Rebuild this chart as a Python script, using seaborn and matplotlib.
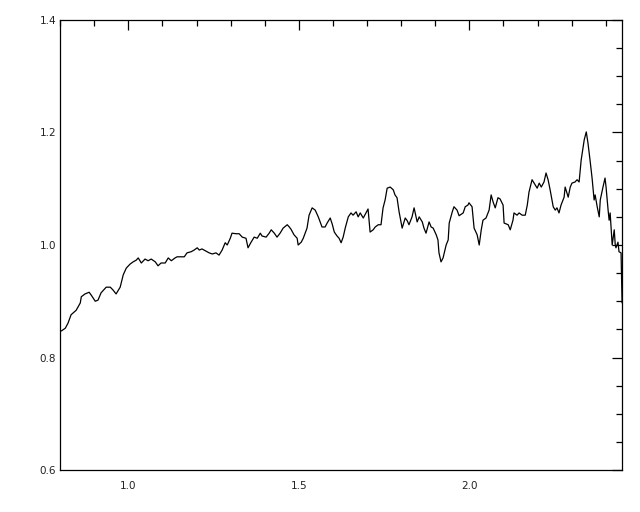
import numpy as np
import pandas as pd
import matplotlib
matplotlib.use("Agg")
import matplotlib.pyplot as plt
import seaborn as sns
from matplotlib.ticker import MultipleLocator

# spectrum (wavelength, relative flux)
wave = [
    0.803, 0.815, 0.823, 0.832, 0.847, 0.859, 0.862, 0.873, 0.885, 0.891,
    0.903, 0.911, 0.920, 0.935, 0.947, 0.955, 0.964, 0.976, 0.985, 0.994,
    1.005, 1.014, 1.023, 1.029, 1.038, 1.049, 1.058, 1.067, 1.079, 1.087,
    1.096, 1.108, 1.117, 1.126, 1.137,
    1.143, 1.155, 1.164, 1.172, 1.184, 1.193, 1.202, 1.208, 1.216, 1.228,
    1.237, 1.246, 1.257, 1.266, 1.275, 1.284, 1.290, 1.299, 1.304, 1.316,
    1.325, 1.334, 1.345, 1.351, 1.360, 1.369, 1.378, 1.387, 1.392, 1.404,
    1.413, 1.419, 1.428, 1.436, 1.445, 1.454, 1.466, 1.472, 1.477,
    1.486, 1.495, 1.498, 1.507, 1.513, 1.524, 1.530, 1.539, 1.548, 1.557,
    1.568, 1.577, 1.583, 1.592, 1.598, 1.604, 1.612, 1.618, 1.624, 1.630,
    1.636, 1.645, 1.653, 1.659, 1.668, 1.674, 1.680, 1.689, 1.697, 1.703,
    1.709, 1.718, 1.724, 1.733, 1.741, 1.747, 1.753, 1.759, 1.768, 1.777,
    1.782, 1.788, 1.794, 1.803, 1.812, 1.818,
    1.823, 1.832, 1.838, 1.847, 1.853, 1.862, 1.867, 1.873, 1.882, 1.888,
    1.894, 1.903, 1.908, 1.911, 1.917, 1.923, 1.932, 1.938, 1.941, 1.950,
    1.955, 1.964, 1.970, 1.982, 1.988, 1.996, 1.999, 2.008, 2.014, 2.023,
    2.029, 2.035, 2.040, 2.049, 2.058, 2.064, 2.070, 2.076, 2.084, 2.090,
    2.099, 2.102, 2.114, 2.120, 2.128, 2.131, 2.140, 2.146, 2.155,
    2.164, 2.170, 2.175, 2.184, 2.193, 2.199, 2.205, 2.211, 2.219, 2.225,
    2.231, 2.237, 2.246, 2.252, 2.257, 2.263, 2.269, 2.278, 2.281, 2.290,
    2.296, 2.301, 2.310, 2.316, 2.322, 2.328, 2.337, 2.343, 2.348, 2.354,
    2.360, 2.366, 2.369, 2.375, 2.381, 2.384, 2.392, 2.398, 2.401, 2.407,
    2.410, 2.413, 2.419, 2.425, 2.428, 2.430, 2.436, 2.439, 2.445, 2.446,
    2.448,
]
flux = [
    0.847, 0.852, 0.861, 0.876, 0.884, 0.897, 0.908, 0.913, 0.916, 0.911,
    0.900, 0.902, 0.915, 0.925, 0.925, 0.920, 0.913, 0.925, 0.947, 0.959,
    0.966, 0.970, 0.973, 0.977, 0.968, 0.975, 0.972, 0.975, 0.970, 0.963,
    0.968, 0.968, 0.977, 0.972, 0.977,
    0.979, 0.979, 0.979, 0.986, 0.988, 0.991, 0.995, 0.991, 0.993, 0.989,
    0.986, 0.984, 0.986, 0.982, 0.991, 1.004, 1.000, 1.012, 1.021, 1.020,
    1.020, 1.014, 1.012, 0.995, 1.005, 1.014, 1.012, 1.021, 1.016, 1.014,
    1.021, 1.027, 1.021, 1.014, 1.021, 1.030, 1.036, 1.032, 1.028,
    1.018, 1.012, 1.000, 1.005, 1.012, 1.030, 1.053, 1.066, 1.062, 1.050,
    1.032, 1.032, 1.039, 1.048, 1.037, 1.023, 1.016, 1.012, 1.004, 1.014,
    1.030, 1.050, 1.057, 1.053, 1.059, 1.050, 1.057, 1.048, 1.057, 1.064,
    1.023, 1.027, 1.032, 1.036, 1.036, 1.066, 1.080, 1.101, 1.103, 1.098,
    1.089, 1.084, 1.059, 1.030, 1.048, 1.043,
    1.036, 1.050, 1.066, 1.041, 1.050, 1.041, 1.030, 1.021, 1.041, 1.032,
    1.030, 1.018, 1.009, 0.986, 0.970, 0.977, 1.000, 1.009, 1.039, 1.059,
    1.068, 1.062, 1.052, 1.057, 1.068, 1.071, 1.075, 1.068, 1.030, 1.018,
    1.000, 1.027, 1.044, 1.048, 1.062, 1.089, 1.076, 1.066, 1.084, 1.082,
    1.071, 1.039, 1.036, 1.027, 1.044, 1.057, 1.053, 1.057, 1.053,
    1.053, 1.071, 1.094, 1.116, 1.107, 1.101, 1.110, 1.103, 1.112, 1.128,
    1.116, 1.098, 1.068, 1.062, 1.066, 1.057, 1.071, 1.085, 1.103, 1.085,
    1.103, 1.110, 1.112, 1.116, 1.112, 1.151, 1.187, 1.201, 1.181, 1.151,
    1.119, 1.080, 1.089, 1.068, 1.050, 1.080, 1.103, 1.119, 1.103, 1.062,
    1.044, 1.057, 1.000, 1.027, 1.000, 0.995, 1.005, 0.988, 0.986, 0.956,
    0.897,
]

df = pd.DataFrame({"wave": wave, "flux": flux})

sns.set_style("white")
plt.rcParams["font.family"] = ["DejaVu Sans"]

fig = plt.figure(figsize=(6.4, 5.12), dpi=100)
ax = fig.add_axes([0.094, 0.082, 0.878, 0.879])

sns.lineplot(data=df, x="wave", y="flux", color="black", linewidth=0.9,
             estimator=None, sort=False, ax=ax)

ax.set_xlim(0.8, 2.448)
ax.set_ylim(0.6, 1.4)
ax.xaxis.set_major_locator(MultipleLocator(0.5))
ax.xaxis.set_minor_locator(MultipleLocator(0.1))
ax.yaxis.set_major_locator(MultipleLocator(0.2))
ax.yaxis.set_minor_locator(MultipleLocator(0.05))
ax.set_xticklabels([])
ax.xaxis.set_major_formatter(matplotlib.ticker.FormatStrFormatter("%.1f"))
ax.yaxis.set_major_formatter(matplotlib.ticker.FormatStrFormatter("%.1f"))

ax.tick_params(which="both", direction="in", top=True, right=True,
               color="black", width=0.9, labelsize=7.5, labelcolor="#222222")
ax.tick_params(which="major", length=7)
ax.tick_params(which="minor", length=4)
ax.tick_params(axis="x", which="major", pad=8)
ax.tick_params(axis="y", which="major", pad=3)

for s in ax.spines.values():
    s.set_color("black")
    s.set_linewidth(0.9)

ax.set_xlabel("")
ax.set_ylabel("")

fig.savefig("out.png", dpi=100)
